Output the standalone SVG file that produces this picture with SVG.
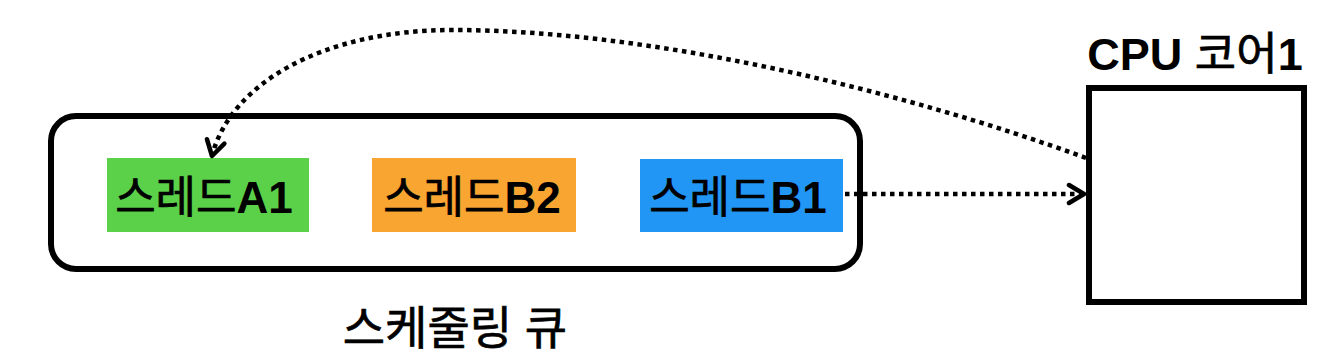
<svg xmlns="http://www.w3.org/2000/svg" width="1328" height="364" viewBox="0 0 1328 364">
<style>
.lbl{font-family:"Liberation Sans","Noto Sans CJK KR",sans-serif;font-size:44px;fill:#000;text-anchor:middle;stroke:#000;stroke-width:0.7}
.lat{font-weight:bold;stroke-width:0}
.conn{fill:none;stroke:#000;stroke-width:4.5;stroke-dasharray:4.5 4.5}
.box{fill:none;stroke:#000;stroke-width:6}
</style>
<defs>
<marker id="arr" viewBox="0 0 24 24" refX="21" refY="12" markerWidth="24" markerHeight="24" markerUnits="userSpaceOnUse" orient="auto">
<path d="M6,3 L21,12 L6,21" fill="none" stroke="#000" stroke-width="4.5" stroke-dasharray="none" stroke-linecap="round" stroke-linejoin="round"/>
</marker>
</defs>
<rect width="1328" height="364" fill="#fff"/>
<g id="queue">
<rect x="51" y="116" width="809" height="153" rx="25" ry="25" class="box"/>
<text x="455" y="344" class="lbl" style="font-size:46px">스케줄링 큐</text>
</g>
<g id="threadA1">
<rect x="107" y="158" width="202" height="74" fill="#5BD14A"/>
<text x="204" y="213" class="lbl">스레드<tspan class="lat">A1</tspan></text>
</g>
<g id="threadB2">
<rect x="372" y="158" width="204" height="74" fill="#F8A531"/>
<text x="472" y="213" class="lbl">스레드<tspan class="lat">B2</tspan></text>
</g>
<g id="threadB1">
<rect x="640" y="159" width="203" height="73" fill="#2196F5"/>
<text x="738" y="213" class="lbl">스레드<tspan class="lat">B1</tspan></text>
</g>
<g id="cpu">
<rect x="1089" y="88" width="215" height="214" class="box"/>
<text x="1195" y="70" class="lbl" style="font-size:45px"><tspan class="lat">CPU </tspan>코어<tspan class="lat">1</tspan></text>
</g>
<g id="connectors">
<path class="conn" d="M845,194 L1084,194" marker-end="url(#arr)"/>
<path class="conn" d="M1086,158 C900,90 650,30 453,30 C320,30 230,85 212,156" marker-end="url(#arr)"/>
</g>
</svg>
